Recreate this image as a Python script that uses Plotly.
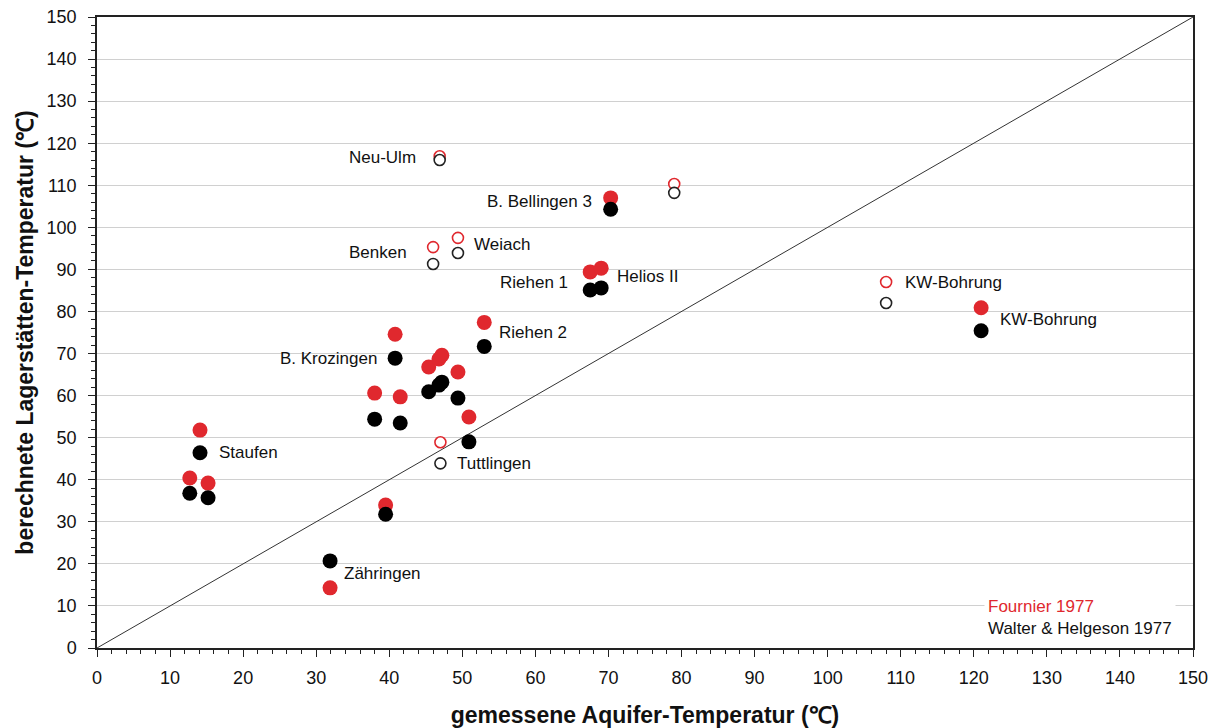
import plotly.graph_objects as go

# measured aquifer temperature (x) for filled-point sites
x_filled = [12.7, 15.2, 14.1, 31.9, 39.5, 38.0, 41.5, 40.8, 45.4, 46.8, 47.2, 49.4, 50.9, 53.0, 67.5, 69.0, 70.3, 121.0]
# calculated reservoir temperatures
wh_filled = [36.8, 35.7, 46.4, 20.7, 31.8, 54.4, 53.5, 68.9, 60.9, 62.5, 63.2, 59.4, 49.0, 71.7, 85.1, 85.6, 104.3, 75.4]
fo_filled = [40.4, 39.2, 51.8, 14.3, 34.0, 60.6, 59.7, 74.6, 66.8, 68.7, 69.6, 65.6, 54.9, 77.4, 89.4, 90.3, 107.0, 80.9]

# open-circle sites
x_open = [46.9, 79.0, 46.0, 49.4, 108.0, 47.0]
wh_open = [116.0, 108.2, 91.3, 93.9, 82.0, 43.9]
fo_open = [116.9, 110.3, 95.3, 97.5, 87.0, 48.9]

# labels: text, x, y, anchor
label_text = ["Neu-Ulm", "B. Bellingen 3", "Benken", "Weiach", "Riehen 1", "Helios II", "Riehen 2",
              "B. Krozingen", "Staufen", "Tuttlingen", "Zähringen", "KW-Bohrung", "KW-Bohrung"]
label_x = [43.9, 68.0, 42.7, 51.3, 64.7, 70.9, 54.7, 38.6, 16.4, 49.0, 33.5, 110.3, 123.3]
label_y = [116.7, 106.2, 93.9, 96.0, 87.0, 88.2, 75.0, 68.9, 46.4, 43.9, 17.6, 87.0, 78.0]
label_anchor = ["right", "right", "right", "left", "right", "left", "left",
                "right", "left", "left", "left", "left", "left"]

RED = "#e0282e"
BLACK = "#000000"
FONT = "Liberation Sans, Arial, sans-serif"

fig = go.Figure()

# 1:1 line
fig.add_trace(go.Scatter(x=[0, 150], y=[0, 150], mode="lines",
                         line=dict(color="#333333", width=1), showlegend=False, hoverinfo="skip"))

fig.add_trace(go.Scatter(x=x_filled, y=fo_filled, mode="markers", name="Fournier 1977",
                         marker=dict(color=RED, size=15, line=dict(width=0)), showlegend=False))
fig.add_trace(go.Scatter(x=x_filled, y=wh_filled, mode="markers", name="Walter & Helgeson 1977",
                         marker=dict(color=BLACK, size=15, line=dict(width=0)), showlegend=False))
fig.add_trace(go.Scatter(x=x_open, y=fo_open, mode="markers", name="Fournier 1977 (open)",
                         marker=dict(color="white", size=11, symbol="circle",
                                     line=dict(color=RED, width=1.6)), showlegend=False))
fig.add_trace(go.Scatter(x=x_open, y=wh_open, mode="markers", name="W&H 1977 (open)",
                         marker=dict(color="white", size=11, symbol="circle",
                                     line=dict(color="#222222", width=1.6)), showlegend=False))

for t, x, y, a in zip(label_text, label_x, label_y, label_anchor):
    fig.add_annotation(x=x, y=y, text=t, xanchor=a, yanchor="middle", showarrow=False,
                       font=dict(family=FONT, size=17, color="#111111"))

fig.add_annotation(x=121.4, y=7.2, xref="x", yref="y", xanchor="left", yanchor="middle",
                   align="left", showarrow=False, bgcolor="white", borderpad=3,
                   text=f'<span style="color:{RED}">Fournier 1977</span><br>Walter &amp; Helgeson 1977',
                   font=dict(family=FONT, size=17, color="#111111"))

axis_common = dict(range=[0, 150], dtick=10, tick0=0, ticks="outside", ticklen=7, tickwidth=1,
                   tickcolor="#222222", showline=True, linecolor="#222222", linewidth=1.5,
                   mirror=True, zeroline=False, automargin=False,
                   tickfont=dict(family=FONT, size=18, color="#111111"),
                   minor=dict(dtick=2, ticks="outside", ticklen=4, tickwidth=1, tickcolor="#222222",
                              showgrid=False))

fig.update_xaxes(**axis_common, showgrid=False, ticklabelstandoff=6,
                 title=dict(text="<b>gemessene Aquifer-Temperatur (℃)</b>", standoff=22,
                            font=dict(family=FONT, size=23, color="#111111")))
fig.update_yaxes(**axis_common, showgrid=True, gridcolor="#d0d0d0", gridwidth=1, ticklabelstandoff=8,
                 title=dict(text="<b>berechnete Lagerstätten-Temperatur (℃)</b>", standoff=7,
                            font=dict(family=FONT, size=23, color="#111111")))

fig.update_layout(width=1219, height=728, margin=dict(l=97, r=26, t=17, b=80),
                  plot_bgcolor="white", paper_bgcolor="white", showlegend=False)

fig.write_html("out.html")
